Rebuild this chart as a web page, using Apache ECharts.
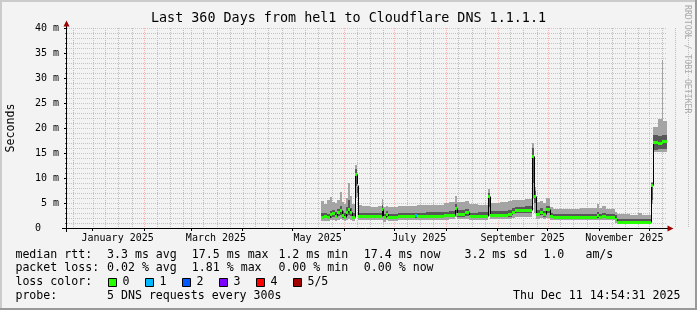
<!DOCTYPE html>
<html><head><meta charset="utf-8">
<script src="https://cdn.jsdelivr.net/npm/echarts@6/dist/echarts.min.js"></script>
<style>html,body{margin:0;padding:0;background:#f3f3f3}#c{width:697px;height:310px}</style>
</head><body><div id="c"></div>
<script>
// ---------------- data ----------------
const windowStart = '2024-12-16T14:54:31';
const windowEnd   = '2025-12-11T14:54:31';

const times = [
 '2025-05-17T21:00','2025-05-19T20:00','2025-05-21T15:00','2025-05-23T11:00','2025-05-24T15:00',
 '2025-05-26T11:00','2025-05-27T15:00','2025-05-29T03:00','2025-05-30T15:00','2025-05-31T20:00',
 '2025-06-02T00:00','2025-06-03T05:00','2025-06-04T17:00','2025-06-05T22:00','2025-06-07T03:00',
 '2025-06-08T08:00','2025-06-09T12:00','2025-06-11T15:00','2025-06-16T10:00','2025-06-21T05:00',
 '2025-06-23T08:00','2025-06-24T12:00','2025-06-26T00:00','2025-06-27T05:00',
 '2025-07-03T05:00','2025-07-09T05:00','2025-07-13T17:00','2025-07-14T15:00','2025-07-20T00:00',
 '2025-07-26T00:00','2025-07-30T20:00',
 '2025-08-02T20:00','2025-08-06T10:00','2025-08-07T15:00','2025-08-12T10:00','2025-08-14T20:00',
 '2025-08-20T05:00','2025-08-26T05:00','2025-08-27T17:00',
 '2025-09-02T11:00','2025-09-07T06:00','2025-09-09T15:00','2025-09-11T11:00','2025-09-17T11:00',
 '2025-09-21T08:00','2025-09-22T13:00','2025-09-24T01:00','2025-09-26T11:00','2025-09-28T06:00','2025-09-30T01:00',
 '2025-10-02T03:00','2025-10-04T06:00','2025-10-11T11:00','2025-10-20T11:00','2025-10-25T20:00',
 '2025-10-30T15:00','2025-10-31T20:00',
 '2025-11-02T15:00','2025-11-05T00:00','2025-11-10T10:00','2025-11-11T15:00','2025-11-19T10:00',
 '2025-11-24T05:00','2025-11-26T15:00',
 '2025-12-02T00:00','2025-12-03T10:00','2025-12-06T05:00','2025-12-08T08:00','2025-12-08T22:00','2025-12-11T14:54'
];
// smoke: fastest ping (1 of 5)
const pingLow = [
 1.4,1.5,1.4,1.6,1.6,1.5,1.7,1.8,1.6,1.5,
 1.7,1.8,1.7,1.5,6.0,6.2,1.6,
 1.7,1.6,1.7,1.7,1.3,1.6,1.5,
 1.6,1.6,1.6,1.6,1.7,1.7,1.7,
 1.8,2.2,1.8,1.9,1.7,1.7,2.5,1.8,
 1.8,1.8,2.1,2.3,2.3,6.0,3.0,1.9,2.0,1.8,2.1,
 1.6,1.6,1.6,1.6,1.6,1.7,1.6,
 1.6,1.6,1.0,0.8,0.8,0.8,0.8,
 4.8,15.3,15.3,15.3,15.3,15.3
];
// smoke: 2nd ping
const pingInnerLow = [
 1.9,2.0,1.9,2.1,2.2,2.0,2.4,2.6,2.1,1.9,
 2.5,2.6,2.5,1.9,8.5,7.0,2.0,
 2.0,2.0,2.1,2.5,1.8,2.2,1.9,
 2.0,2.0,2.0,2.0,2.1,2.1,2.2,
 2.2,3.0,2.3,2.5,2.0,2.1,4.2,2.2,
 2.2,2.3,2.8,3.1,3.1,9.0,5.0,2.4,2.6,2.3,3.0,
 2.0,1.9,1.9,1.9,1.9,2.1,1.9,
 2.0,1.9,1.4,1.0,1.0,1.0,1.0,
 5.6,15.6,15.8,15.7,15.8,15.8
];
// median rtt (ms)
const medianRtt = [
 2.3,2.4,2.2,2.8,3.0,2.4,3.2,3.6,2.6,2.2,
 3.3,3.8,3.2,2.3,10.8,8.6,2.4,
 2.4,2.4,2.5,3.8,2.2,2.9,2.2,
 2.4,2.4,2.6,2.5,2.5,2.5,2.6,
 2.7,4.1,2.8,3.3,2.4,2.5,6.4,2.7,
 2.7,2.8,3.3,3.6,3.7,14.5,6.4,2.9,3.3,2.8,3.8,
 2.4,2.3,2.3,2.3,2.3,2.7,2.3,
 2.4,2.3,1.8,1.3,1.2,1.3,1.2,
 8.6,17.3,17.0,17.2,17.4,17.4
];
// smoke: 4th ping
const pingInnerHigh = [
 3.0,3.0,2.9,3.4,3.6,3.2,3.9,4.4,3.4,3.0,
 4.2,5.6,4.0,3.0,11.8,9.5,3.0,
 3.1,3.0,3.1,4.6,2.8,3.5,2.9,
 3.0,3.1,3.1,3.1,3.2,3.2,3.3,
 3.4,4.8,3.6,3.9,3.1,3.2,7.0,3.4,
 3.4,3.6,4.1,4.3,4.4,16.0,7.4,3.6,4.0,3.5,4.5,
 3.0,2.9,2.9,2.9,2.9,3.3,2.9,
 3.0,2.9,2.6,1.9,1.8,1.9,1.8,
 9.0,18.6,18.4,18.5,18.6,18.6
];
// smoke: slowest ping (5 of 5)
const pingHigh = [
 5.4,4.8,5.6,6.2,5.2,5.0,5.6,7.3,5.3,4.9,
 6.0,9.0,6.4,4.8,12.6,10.2,4.6,
 4.4,4.3,4.4,5.8,4.2,4.5,4.3,
 4.4,4.5,4.5,4.6,4.6,4.7,5.0,
 5.3,6.4,5.3,5.4,4.8,4.7,7.9,5.0,
 5.2,5.4,5.6,5.7,5.8,17.0,8.3,5.2,5.5,5.0,6.0,
 4.3,3.9,3.9,4.0,4.0,4.9,4.0,
 4.5,3.8,3.3,2.8,2.6,3.0,2.7,
 9.2,20.3,21.9,33.6,21.4,21.4
];
// lost pings out of 5
const lossCount = [
 0,0,0,0,0,0,0,0,0,0, 0,0,0,0,0,0,0, 0,0,0,0,0,0,0,
 0,0,1,0,0,0,0, 0,0,0,0,0,0,0,0, 0,0,0,0,0,0,0,0,0,0,0,
 0,0,0,0,0,0,0, 0,0,0,0,0,0,0, 0,0,0,0,0,0
];
const lossColors = ['#26ff00','#00b8ff','#0059ff','#7e00ff','#ff0000','#a00000'];
const lossLabels = ['0','1','2','3','4','5/5'];

const monthStarts = ['2025-01-01','2025-02-01','2025-03-01','2025-04-01','2025-05-01','2025-06-01',
  '2025-07-01','2025-08-01','2025-09-01','2025-10-01','2025-11-01','2025-12-01'];
const minorGridDays = ['2024-12-20T12:00'];
['01','02','03','04','05','06','07','08','09','10','11','12'].forEach(m => {
  ['08','16','24'].forEach(d => minorGridDays.push('2025-' + m + '-' + d + 'T12:00'));
});
const monthLabelAt = ['2025-01-16','2025-03-16','2025-05-16','2025-07-16','2025-09-16','2025-11-16'];
const monthLabelText = ['January 2025','March 2025','May 2025','July 2025','September 2025','November 2025'];
const yTickLabels = {0:'0   ',5:'5 m',10:'10 m',15:'15 m',20:'20 m',25:'25 m',30:'30 m',35:'35 m',40:'40 m'};

// ---------------- build ----------------
const T = s => Date.parse((s.length === 10 ? s + 'T00:00' : s) + (s.length > 16 ? 'Z' : ':00Z'));
const tMin = T(windowStart), tMax = T(windowEnd);
const ts = times.map(T);
const items = [];
for (let i = 0; i < ts.length - 1; i++) {
  items.push([ts[i], ts[i+1], pingLow[i], pingInnerLow[i], medianRtt[i], pingInnerHigh[i], pingHigh[i],
    lossCount[i], i > 0 ? medianRtt[i-1] : medianRtt[i]]);
}
const labelMap = {};
monthLabelAt.forEach((s, i) => { labelMap[T(s)] = monthLabelText[i]; });

const MONO = 'DejaVu Sans Mono';
function P(api, t, v) { const p = api.coord([t, v]); return [Math.round(p[0]), Math.round(p[1])]; }

function smokeItem(params, api) {
  const t0 = api.value(0), t1 = api.value(1);
  const x0 = P(api, t0, 0)[0];
  const x1 = Math.max(P(api, t1, 0)[0], x0 + 1);
  const yLo = P(api, t0, api.value(2))[1], yIlo = P(api, t0, api.value(3))[1];
  const yIhi = P(api, t0, api.value(5))[1], yHi = P(api, t0, api.value(6))[1];
  return {type: 'group', children: [
    {type: 'rect', shape: {x: x0, y: yHi, width: x1 - x0, height: Math.max(1, yLo - yHi)}, style: {fill: '#a4a4a4'}},
    {type: 'rect', shape: {x: x0, y: yIhi, width: x1 - x0, height: Math.max(1, yIlo - yIhi)}, style: {fill: '#585858'}}
  ]};
}
function medianItem(params, api) {
  const t0 = api.value(0), t1 = api.value(1);
  const x0 = P(api, t0, 0)[0];
  const x1 = Math.max(P(api, t1, 0)[0], x0 + 1);
  const yM = P(api, t0, api.value(4))[1], yPrev = P(api, t0, api.value(8))[1];
  return {type: 'group', children: [
    {type: 'line', shape: {x1: x0 + 0.5, y1: yPrev + 0.5, x2: x0 + 0.5, y2: yM + 0.5}, style: {stroke: '#000', lineWidth: 1}},
    {type: 'rect', shape: {x: x0, y: yM - 1, width: x1 - x0, height: 3}, style: {fill: lossColors[api.value(7)]}}
  ]};
}
function vGrid(color) {
  return function (params, api) {
    const a = api.coord([api.value(0), 0]), b = api.coord([api.value(0), 40]);
    const x = Math.round(a[0]) + 0.5;
    return {type: 'line', shape: {x1: x, y1: b[1], x2: x, y2: a[1]}, style: {stroke: color, lineWidth: 1, lineDash: [1, 1]}};
  };
}

const graphics = [];
// frame
graphics.push({type:'rect', shape:{x:0,y:0,width:697,height:2}, style:{fill:'#cbcbcb'}, silent:true});
graphics.push({type:'rect', shape:{x:0,y:0,width:2,height:310}, style:{fill:'#cbcbcb'}, silent:true});
graphics.push({type:'rect', shape:{x:0,y:308,width:697,height:2}, style:{fill:'#999999'}, silent:true});
graphics.push({type:'rect', shape:{x:695,y:0,width:2,height:310}, style:{fill:'#999999'}, silent:true});
// title
graphics.push({type:'text', x:348.5, y:18.6, style:{text:'Last 360 Days from hel1 to Cloudflare DNS 1.1.1.1',
  fontFamily:MONO, fontSize:13.4, fill:'#000', align:'center', verticalAlign:'middle'}});
// unit label
graphics.push({type:'text', x:11, y:128, rotation:Math.PI/2, style:{text:'Seconds',
  fontFamily:MONO, fontSize:11.6, fill:'#000', align:'center', verticalAlign:'middle'}});
// watermark
graphics.push({type:'text', x:687.5, y:5, rotation:-Math.PI/2, style:{text:'RRDTOOL / TOBI OETIKER',
  fontFamily:MONO, fontSize:8.2, fill:'#a8a8a8', align:'left', verticalAlign:'middle'}});
// axes with arrows
graphics.push({type:'line', shape:{x1:62, y1:228.5, x2:669, y2:228.5}, style:{stroke:'#000', lineWidth:1}, z:50});
graphics.push({type:'polygon', shape:{points:[[667.5,225.5],[673.5,228.5],[667.5,231.5]]}, style:{fill:'#990000'}, z:50});
graphics.push({type:'line', shape:{x1:66.5, y1:232, x2:66.5, y2:25}, style:{stroke:'#000', lineWidth:1}, z:50});
graphics.push({type:'polygon', shape:{points:[[63.5,26.5],[66.5,20.5],[69.5,26.5]]}, style:{fill:'#990000'}, z:50});
// legend
function lt(x, y, text, align) {
  graphics.push({type:'text', x:x, y:y, style:{text:text, fontFamily:MONO, fontSize:11.6, fill:'#000',
    align:align || 'left', verticalAlign:'middle'}});
}
[[15.4,'median rtt:'],[107,'3.3 ms avg'],[191.8,'17.5 ms max'],[278.4,'1.2 ms min'],[363.8,'17.4 ms now'],
 [464.4,'3.2 ms sd'],[543.4,'1.0'],[585.4,'am/s']].forEach(a => lt(a[0], 254.8, a[1]));
[[15.4,'packet loss:'],[107,'0.02 % avg'],[191.8,'1.81 % max'],[278.4,'0.00 % min'],[363.8,'0.00 % now']]
 .forEach(a => lt(a[0], 268.4, a[1]));
lt(15.4, 282, 'loss color:');
lossColors.forEach((c, i) => {
  const bx = 108 + i * 37;
  graphics.push({type:'rect', shape:{x:bx + 0.5, y:278.5, width:8, height:8}, style:{fill:c, stroke:'#000', lineWidth:1}});
  lt(bx + 14.4, 282, lossLabels[i]);
});
lt(15.4, 296, 'probe:');
lt(107, 296, '5 DNS requests every 300s');
lt(680.5, 296, 'Thu Dec 11 14:54:31 2025', 'right');

const chart = echarts.init(document.getElementById('c'), null, {renderer:'canvas', width:697, height:310});
chart.setOption({
  animation: false,
  backgroundColor: '#f3f3f3',
  grid: {left: 67, top: 28, width: 600, height: 200, containLabel: false},
  xAxis: {
    type: 'value', min: tMin, max: tMax,
    axisLine: {show: false},
    splitLine: {show: false},
    axisTick: {show: true, customValues: monthStarts.map(T), length: 3, lineStyle: {color: '#000'}},
    axisLabel: {show: true, customValues: monthLabelAt.map(T), formatter: v => labelMap[v] || '',
      fontFamily: MONO, fontSize: 10, color: '#000', margin: 5}
  },
  yAxis: {
    type: 'value', min: 0, max: 40, interval: 5,
    axisLine: {show: false},
    axisTick: {show: true, length: 3, lineStyle: {color: '#000'}},
    minorTick: {show: true, splitNumber: 5, length: 2, lineStyle: {color: '#666'}},
    axisLabel: {formatter: v => yTickLabels[v], fontFamily: MONO, fontSize: 10, color: '#000', margin: 8},
    splitLine: {show: true, lineStyle: {color: 'rgba(255,80,80,0.4)', type: [1, 1]}},
    minorSplitLine: {show: true, lineStyle: {color: '#c4c4c4', type: [1, 1]}}
  },
  graphic: graphics,
  series: [
    {type: 'custom', name: 'minor grid', silent: true, z: 1, renderItem: vGrid('#bdbdbd'),
     data: minorGridDays.map(s => [T(s)]), encode: {x: 0}},
    {type: 'custom', name: 'month grid', silent: true, z: 1, renderItem: vGrid('rgba(255,80,80,0.4)'),
     data: monthStarts.map(s => [T(s)]), encode: {x: 0}},
    {type: 'custom', name: 'smoke', silent: true, z: 3, renderItem: smokeItem, data: items,
     encode: {x: [0, 1], y: [2, 6]}},
    {type: 'custom', name: 'median', silent: true, z: 4, renderItem: medianItem, data: items,
     encode: {x: [0, 1], y: [4, 8]}}
  ]
});
</script></body></html>
